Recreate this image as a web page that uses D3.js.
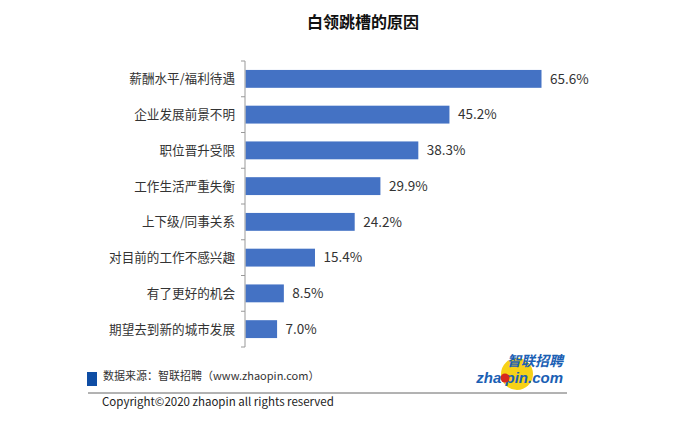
<!DOCTYPE html>
<html>
<head>
<meta charset="utf-8">
<script src="https://cdn.jsdelivr.net/npm/d3@7"></script>
<style>
  body { margin: 0; background: #fff; }
  text { font-family: "Microsoft YaHei", "Noto Sans CJK SC", sans-serif; }
</style>
</head>
<body>
<svg id="chart" width="697" height="426"></svg>
<script>
// data
const categories = ["薪酬水平/福利待遇", "企业发展前景不明", "职位晋升受限", "工作生活严重失衡",
  "上下级/同事关系", "对目前的工作不感兴趣", "有了更好的机会", "期望去到新的城市发展"];
const values = [65.6, 45.2, 38.3, 29.9, 24.2, 15.4, 8.5, 7.0];

let data = categories.map((c, i) => ({category: c, value: values[i]}));

let svg = d3.select("#chart");

// title
svg.append("text")
  .attr("x", 363)
  .attr("y", 28)
  .attr("text-anchor", "middle")
  .style("font-size", "16px")
  .style("font-weight", "bold")
  .attr("fill", "#111")
  .text("白领跳槽的原因");

let x0 = 245, plot_top = 61, plot_bottom = 347;

let x_scale = d3.scaleLinear()
  .domain([0, 65.6])
  .range([x0, 541]);

let y_scale = d3.scaleBand()
  .domain(categories)
  .range([plot_top, plot_bottom])
  .paddingInner(0.5)
  .paddingOuter(0.25);

// bars
svg.selectAll(".bar")
  .data(data)
  .join("rect")
  .attr("class", "bar")
  .attr("x", x_scale(0) + 0.5)
  .attr("y", d => y_scale(d.category))
  .attr("width", d => x_scale(d.value) - x_scale(0))
  .attr("height", y_scale.bandwidth())
  .attr("fill", "#4472C4");

// y axis with ticks between categories
let axis_g = svg.append("g")
  .attr("transform", `translate(${x0}, 0)`);
axis_g.append("line")
  .attr("y1", plot_top).attr("y2", plot_bottom)
  .attr("stroke", "#999");
let step = y_scale.step();
axis_g.selectAll(".tick-line")
  .data(d3.range(categories.length + 1))
  .join("line")
  .attr("class", "tick-line")
  .attr("x1", -4).attr("x2", 0)
  .attr("y1", i => plot_top + i * step)
  .attr("y2", i => plot_top + i * step)
  .attr("stroke", "#999");

// category labels
svg.selectAll(".cat-label")
  .data(data)
  .join("text")
  .attr("class", "cat-label")
  .attr("x", x0 - 10)
  .attr("y", d => y_scale(d.category) + y_scale.bandwidth() / 2)
  .attr("dy", "0.35em")
  .attr("text-anchor", "end")
  .style("font-size", "12.6px")
  .attr("fill", "#333")
  .text(d => d.category);

// value labels
svg.selectAll(".val-label")
  .data(data)
  .join("text")
  .attr("class", "val-label")
  .attr("x", d => x_scale(d.value) + 9)
  .attr("y", d => y_scale(d.category) + y_scale.bandwidth() / 2)
  .attr("dy", "0.35em")
  .style("font-size", "13.5px")
  .attr("fill", "#333")
  .text(d => d.value.toFixed(1) + "%");

// footer
svg.append("rect")
  .attr("x", 87).attr("y", 372)
  .attr("width", 10).attr("height", 14)
  .attr("fill", "#0E4DA4");
svg.append("text")
  .attr("x", 103).attr("y", 380)
  .style("font-size", "11px")
  .attr("fill", "#333")
  .text("数据来源：智联招聘（www.zhaopin.com）");
svg.append("line")
  .attr("x1", 88).attr("x2", 567)
  .attr("y1", 393).attr("y2", 393)
  .attr("stroke", "#666").attr("stroke-width", 1);
svg.append("text")
  .attr("x", 102).attr("y", 406)
  .style("font-size", "11.5px")
  .attr("fill", "#222")
  .text("Copyright©2020 zhaopin all rights reserved");

// logo
let logo = svg.append("g");
logo.append("circle")
  .attr("cx", 517).attr("cy", 374).attr("r", 16)
  .attr("fill", "#F7D117");
logo.append("text")
  .attr("x", 563).attr("y", 366)
  .attr("text-anchor", "end")
  .style("font-size", "14px")
  .style("font-weight", "bold")
  .style("font-style", "italic")
  .attr("fill", "#1B5FB4")
  .text("智联招聘");
logo.append("text")
  .attr("x", 563).attr("y", 383)
  .attr("text-anchor", "end")
  .style("font-family", "Arial, 'Liberation Sans', sans-serif")
  .style("font-size", "15px")
  .style("font-weight", "bold")
  .style("font-style", "italic")
  .attr("fill", "#1B5FB4")
  .text("zha\u00a0pin.com");
logo.append("circle")
  .attr("cx", 505).attr("cy", 378).attr("r", 4.5)
  .attr("fill", "#D7261E");
</script>
</body>
</html>
